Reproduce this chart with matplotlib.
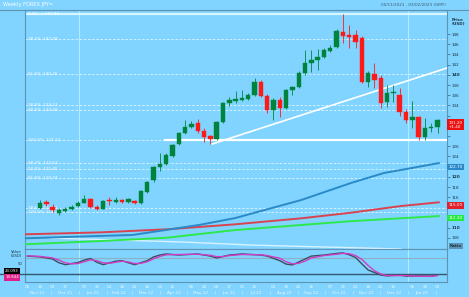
import matplotlib.pyplot as plt
import matplotlib.transforms as mtransforms
from matplotlib.lines import Line2D
import numpy as np
import pandas as pd

# weekly USD/JPY candles, first bar = week ending 19 Nov 2021
first_week = "2021-11-19"

opens = [113.9, 115.0, 114.1, 112.9, 113.3, 113.7, 114.3, 114.9, 115.6, 114.1,
         113.7, 115.3, 115.0, 115.4, 115.0, 115.3, 114.9, 117.0, 119.4, 121.9,
         122.5, 124.1, 126.4, 128.6, 129.8, 130.5, 128.9, 128.0, 127.4, 130.8,
         134.5, 134.9, 135.1, 135.3, 136.1, 138.6, 135.9, 133.1, 135.1, 133.5,
         137.0, 137.6, 140.4, 142.3, 142.9, 143.5, 144.7, 145.5, 148.4, 147.8,
         147.8, 147.2, 138.6, 140.2, 139.4, 134.6, 136.5, 136.0, 132.7, 131.1,
         131.7, 127.8, 129.6, 129.8]
highs = [115.5, 115.5, 114.6, 113.8, 114.0, 114.4, 115.2, 116.4, 115.8, 114.4,
         115.5, 116.0, 116.0, 115.6, 115.8, 115.5, 117.4, 119.2, 122.2, 124.7,
         124.6, 126.4, 128.8, 131.1, 131.0, 131.3, 129.5, 128.3, 131.0, 134.7,
         135.6, 136.8, 137.0, 136.4, 139.4, 138.9, 136.3, 135.5, 135.6, 137.3,
         137.9, 140.8, 144.9, 144.9, 145.0, 145.3, 145.9, 149.0, 151.94, 149.8,
         148.8, 147.6, 140.8, 142.3, 139.9, 138.0, 138.0, 137.4, 133.4, 134.8,
         131.9, 131.5, 130.6, 131.4]
lows = [113.6, 114.2, 113.1, 112.6, 113.1, 113.5, 114.1, 114.8, 113.9, 113.5,
        113.6, 114.5, 114.8, 114.8, 114.9, 114.7, 114.7, 116.8, 119.0, 121.2,
        122.3, 123.9, 126.2, 128.4, 129.5, 128.6, 126.9, 126.4, 127.2, 130.6,
        133.8, 134.5, 134.8, 135.1, 135.9, 135.6, 132.5, 131.2, 131.8, 133.3,
        136.0, 137.4, 140.0, 140.6, 141.0, 143.4, 144.4, 145.3, 146.2, 145.3,
        145.3, 138.5, 137.7, 137.5, 133.6, 133.7, 134.6, 132.0, 130.6, 129.5,
        127.2, 127.2, 128.8, 128.6]
closes = [114.8, 114.6, 113.4, 113.5, 113.7, 114.1, 114.9, 115.6, 114.1, 113.7,
          115.3, 115.2, 115.4, 115.0, 115.6, 114.9, 117.2, 119.0, 121.9, 122.5,
          124.3, 126.2, 128.6, 129.8, 130.3, 128.9, 127.8, 127.4, 130.8, 134.5,
          135.1, 135.3, 135.4, 136.1, 138.6, 135.9, 133.1, 135.1, 133.5, 137.0,
          137.6, 140.4, 142.3, 142.9, 143.5, 144.9, 145.3, 148.6, 147.6, 147.4,
          146.4, 138.6, 140.4, 139.0, 134.5, 136.4, 136.7, 132.7, 131.1, 131.7,
          127.8, 129.6, 129.8, 131.2]

# moving averages, read at a few weeks
ma_blue_idx = [-2.4, 5.5, 14.7, 20.1, 25.4, 30.9, 41.4, 49.3, 54.5, 58.8, 63.2]
ma_blue = [107.94, 108.25, 108.6, 109.6, 110.6, 111.9, 115.45, 118.8, 120.75, 121.7, 122.7]
ma_red_idx = [-2.4, 9.5, 20.1, 30.9, 41.4, 49.3, 57.2, 63.2]
ma_red = [108.72, 109.1, 109.7, 110.68, 111.86, 112.96, 114.27, 115.0]
ma_green_idx = [-2.4, 9.5, 20.1, 30.9, 41.4, 49.3, 63.2]
ma_green = [106.76, 107.4, 108.05, 109.56, 110.55, 111.3, 112.3]
ma_white_idx = [1.6, 22.7, 33.3, 57.2]
ma_white = [107.99, 107.21, 106.62, 105.84]

# fibonacci levels drawn on the chart
fib_prices = [151.94, 147.08, 140.26, 134.13, 133.08, 127.22,
              122.63, 121.45, 119.74, 113.91, 113.10]
fib_labels = ["0.0% \u2014 151.94", "38.2%  147.08", "61.8%  140.26", "78.6%  134.13",
              "88.6%  133.08", "100.0%  127.22", "38.2%  122.63", "50.0%  121.45",
              "61.8%  119.74", "78.6%  113.91", "100.0%  113.10"]

# support line and trend line
support_start, support_price = 19.8, 127.22
trend_idx = [27.3, 64.5]
trend_price = [126.44, 141.35]

# stochastic panel
stoch_k_idx = [-2, 0, 2, 3, 4, 6, 7, 8, 9, 10, 12, 13, 14, 15, 17, 18, 19, 20, 22,
               25, 27, 28, 30, 32, 35, 36, 38, 39, 40, 42, 43, 45, 47, 48, 49, 50,
               51, 52, 54, 55, 57, 58, 60, 62, 63]
stoch_k = [87, 84, 76, 62, 55, 63, 72, 78, 64, 55, 68, 70, 62, 55, 70, 84, 91, 95, 91,
           95, 87, 80, 91, 95, 91, 87, 70, 57, 54, 76, 87, 91, 97, 99, 92, 82,
           58, 35, 16, 13, 16, 12, 13, 12, 16]
stoch_d_idx = [-2, 0, 2, 3, 4, 5, 6, 7, 8, 9, 10, 11, 12, 13, 14, 15, 16, 17, 18, 19,
               20, 22, 25, 27, 28, 29, 30, 32, 35, 36, 38, 39, 40, 41, 42, 43, 45,
               47, 48, 49, 50, 51, 52, 53, 54, 55, 57, 58, 60, 62, 63]
stoch_d = [88, 86, 80, 72, 62, 58, 59, 66, 73, 70, 62, 60, 64, 68, 65, 59, 60, 66, 77, 86,
           92, 93, 94, 90, 85, 85, 89, 93, 92, 89, 79, 66, 58, 60, 68, 80, 89,
           94, 97, 96, 89, 75, 52, 32, 20, 14, 14, 14, 12, 11, 14]
stoch_k_last = "23.093"
stoch_d_last = "19.844"

price_ticks = list(range(108, 150, 2))

BG = "#80d4ff"
GREEN = "#00843d"
RED = "#ff1a1a"
FRAME = "#5f93b4"
W, H = 469, 297


def fx(px):
    return px / W


def fy(py):
    return 1 - py / H


fig = plt.figure(figsize=(W / 100, H / 100), dpi=100, facecolor=BG)
ax = fig.add_axes([fx(25), fy(249), fx(447) - fx(25), fy(10) - fy(249)])
ind = fig.add_axes([fx(25), fy(282), fx(447) - fx(25), fy(249) - fy(282)], sharex=ax)

for a in (ax, ind):
    a.set_facecolor(BG)
    for s in a.spines.values():
        s.set_color(FRAME)
        s.set_linewidth(0.8)

ax.set_xlim(-2.38, 64.5)
ax.set_ylim(105.84, 152.73)
ind.set_ylim(-10, 113.6)

# year separators
dates = pd.date_range("2021-11-05", "2023-02-03", freq="7D")
offset = -2
t0 = pd.Timestamp(first_week)
for year in (2022, 2023):
    xi = (pd.Timestamp(f"{year}-01-01") - t0).days / 7
    for a in (ax, ind):
        a.axvline(xi, color="#b4f2ff", lw=0.8, alpha=0.9, zorder=1)

# fib levels
ytrans = mtransforms.blended_transform_factory(ax.transAxes, ax.transData)
for k, (p, lab) in enumerate(zip(fib_prices, fib_labels)):
    if k == 0:
        ax.axhline(p, color="#d8f6ff", lw=1.6, zorder=2)
    else:
        ax.axhline(p, color="white", lw=0.6, ls=(0, (3, 2)), alpha=0.75, zorder=2)
    ax.text(0.006, p, lab, transform=ytrans, fontsize=3.0, color="white",
            va="center", ha="left", zorder=3)

ax.plot([support_start, 64.5], [support_price, support_price], color="white", lw=1.6, zorder=3)
ax.plot(trend_idx, trend_price, color="white", lw=1.2, zorder=3)

# moving averages
ax.plot(ma_white_idx, ma_white, color="#d6f3ff", lw=1.0, zorder=3)
ax.plot(ma_green_idx, ma_green, color="#2ee84a", lw=1.4, zorder=4)
ax.plot(ma_red_idx, ma_red, color="#d9434f", lw=1.4, zorder=4)
ax.plot(ma_blue_idx, ma_blue, color="#2a8ac8", lw=1.4, zorder=4)

# candles
x = np.arange(len(opens))
o = np.array(opens)
c = np.array(closes)
colors = [GREEN if cc >= oo else RED for oo, cc in zip(o, c)]
ax.vlines(x, lows, highs, colors=colors, lw=0.6, zorder=5)
ax.bar(x, np.maximum(np.abs(c - o), 0.2), bottom=np.minimum(o, c), width=0.7,
       color=colors, edgecolor=colors, lw=0.3, zorder=6)

# value boxes on the price axis (they hide the tick labels beneath them)
boxes = [
    (closes[-1] - 1.0, f"{closes[-1]:.2f}\n+{closes[-1] - opens[-1]:.2f}", "#ee1010", 2.2),
    (ma_blue[-1] - 0.8, f"{ma_blue[-1]:.2f}", "#2a8ac8", 1.2),
    (ma_red[-1] - 0.6, f"{ma_red[-1]:.2f}", "#e0202c", 1.2),
    (ma_green[-1] - 0.4, f"{ma_green[-1]:.2f}", "#22e840", 1.2),
]

# price axis
ax.yaxis.tick_right()
ax.set_yticks(price_ticks)
tick_text = []
for t in price_ticks:
    hidden = any(abs(t - b[0]) < b[3] for b in boxes)
    tick_text.append("" if hidden else str(t))
ax.set_yticklabels(tick_text)
ax.tick_params(axis="y", length=2, width=0.4, color="#24485c", labelsize=3.0,
               pad=1.5, labelcolor="#1c3848")
for t, lab in zip(price_ticks, ax.get_yticklabels()):
    if t % 10 == 0:
        lab.set_fontweight("bold")
ax.tick_params(axis="x", bottom=False, labelbottom=False)

for p, text, fc, _ in boxes:
    ax.text(1.004, p, text, transform=ytrans, fontsize=3.0, color="white",
            ha="left", va="center", clip_on=False, zorder=10,
            bbox=dict(boxstyle="square,pad=0.3", fc=fc, ec="none"))

fig.text(fx(452), fy(22), "Price\n(USD)", fontsize=3.0, color="#1c3848",
         ha="left", va="center", fontweight="bold")
fig.text(fx(450), fy(246), "Ratio", fontsize=3.0, color="#1c3848", ha="left",
         va="center", fontweight="bold",
         bbox=dict(boxstyle="square,pad=0.2", fc="#5f93b4", ec="none"))

# stochastic panel
ind.axhline(80, color="#8fb0c4", lw=0.8)
ind.axhline(20, color="#35596c", lw=1.0)
ind.plot(stoch_k_idx, stoch_k, color="#37505e", lw=1.0)
ind.plot(stoch_d_idx, stoch_d, color="#d23cc4", lw=1.0)
ind.set_yticks([])
fig.add_artist(Line2D([0, fx(25)], [fy(274), fy(274)], color="#35596c", lw=1.0))
fig.text(fx(16), fy(254), "Value\n(USD)", fontsize=2.8, color="#1c3848", ha="center", va="center")
fig.text(fx(20), fy(264), "50", fontsize=2.8, color="#1c3848", ha="center", va="center")
fig.text(fx(12), fy(271), stoch_k_last, fontsize=2.8, color="white", ha="center",
         va="center", bbox=dict(boxstyle="square,pad=0.3", fc="black", ec="none"))
fig.text(fx(12), fy(277.5), stoch_d_last, fontsize=2.8, color="white", ha="center",
         va="center", bbox=dict(boxstyle="square,pad=0.3", fc="#e0208a", ec="none"))

# date axis: 1st and 3rd friday of each month
day_idx = []
day_lab = []
for k, d in enumerate(dates):
    if (d.day - 1) // 7 in (0, 2):
        day_idx.append(k + offset)
        day_lab.append(d.strftime("%d"))
ind.set_xticks(day_idx)
ind.set_xticklabels(day_lab)
ind.tick_params(axis="x", length=0, labelsize=3.0, labelcolor="#eaf8ff", pad=2.2)

xtrans = mtransforms.blended_transform_factory(ind.transData, ind.transAxes)
months = pd.date_range("2021-11-01", "2023-02-01", freq="MS")
for m0, m1 in zip(months[:-1], months[1:]):
    a0 = (m0 - t0).days / 7
    a1 = (m1 - t0).days / 7
    mid = (a0 + a1) / 2
    if -2.38 < mid < 64.5:
        ind.text(mid, -0.33, m0.strftime("%b %y"), transform=xtrans, fontsize=3.0,
                 color="#eaf8ff", ha="center", va="center", clip_on=False)
    if a1 < 64.5:
        ind.text(a1, -0.33, "|", transform=xtrans, fontsize=3.0, color="#eaf8ff",
                 ha="center", va="center", clip_on=False)

# header
fig.add_artist(Line2D([0, 1], [fy(9.5), fy(9.5)], color=FRAME, lw=0.8))
fig.text(fx(3), fy(4.5), "Weekly FOREX JPY=", fontsize=3.6, color="white",
         ha="left", va="center")
fig.text(fx(446), fy(4.5), "05/11/2021 - 03/02/2023 (GMT)", fontsize=3.0,
         color="#3a5a6e", ha="right", va="center")

fig.savefig("out.png", dpi=100, facecolor=BG)
